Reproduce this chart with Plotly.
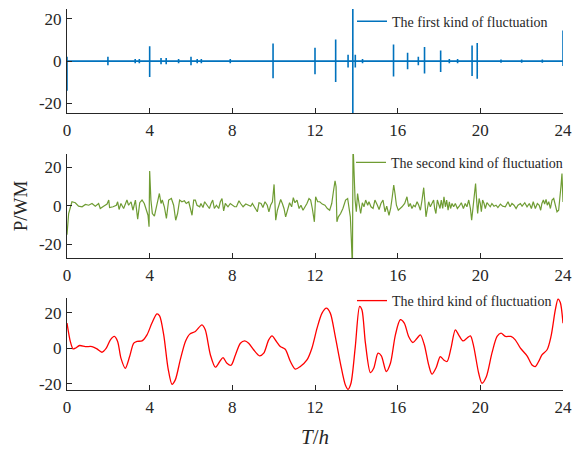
import plotly.graph_objects as go
from plotly.subplots import make_subplots

# ---------------- data ----------------
x_ticks = [0, 4, 8, 12, 16, 20, 24]
x_tick_labels = ["0", "4", "8", "12", "16", "20", "24"]
y_ticks = [-20, 0, 20]
y_tick_labels = ["-20", "0", "20"]

series_names = ["The first kind of fluctuation",
                "The second kind of fluctuation",
                "The third kind of fluctuation"]

# first kind: impulse-like spikes on a ~0 baseline
blue_spike_t = [0, 1.98, 3.3, 3.5, 4.0, 4.55, 4.8, 5.4, 6.0, 6.3, 6.5, 7.9, 9.97, 12.0,
                13.0, 13.6, 13.83, 13.95, 14.3, 15.8, 16.48, 17.0, 17.3, 18.08, 18.5,
                18.9, 19.6, 19.85, 21.0, 22.0, 23.0, 24.0]
blue_spike_up = [2, 2, 1, 1, 7, 1.5, 1.5, 1, 2, 1, 1, 1, 8.3, 6.3,
                 10.2, 3, 32, 3, 1, 7.8, 3.9, 2, 6.7, 5, 1,
                 1, 7.4, 8.6, 0.8, 0.8, 0.8, 14.4]
blue_spike_down = [-14, -2, -1, -1, -7.5, -1.5, -1.5, -1, -2, -1, -1, -1, -8.1, -6.2,
                   -9.9, -3, -32, -3, -1, -7.3, -3.9, -2, -5.8, -5.2, -1,
                   -1, -7, -8.3, -0.8, -0.8, -0.8, -2.3]

# second kind
green_t = [0, 0.08, 0.24, 0.4, 0.56, 0.73, 0.89, 1.05, 1.21, 1.37, 1.53, 1.61, 1.77, 1.94,
           2.02, 2.06, 2.23, 2.39, 2.45, 2.52, 2.61, 2.74, 2.9, 2.98, 3.1, 3.19, 3.31, 3.42,
           3.52, 3.63, 3.74, 3.84, 3.92, 3.97, 4.0, 4.06, 4.13, 4.23, 4.35, 4.47, 4.55, 4.61,
           4.71, 4.81, 4.92, 5.05, 5.16, 5.26, 5.35, 5.45, 5.56, 5.68, 5.77, 5.89, 5.97, 6.05,
           6.13, 6.21, 6.29, 6.42, 6.48, 6.58, 6.66, 6.77, 6.89, 6.97, 7.05, 7.13, 7.23, 7.34,
           7.42, 7.5, 7.58, 7.66, 7.79, 7.9, 8.0,
           8.11, 8.2, 8.32, 8.4, 8.52, 8.65, 8.77, 8.89, 8.97, 9.1, 9.21, 9.29, 9.39, 9.48,
           9.58, 9.69, 9.77, 9.85, 9.94, 10.02, 10.06, 10.1, 10.18, 10.26, 10.34, 10.42, 10.5,
           10.58, 10.68, 10.77, 10.87, 10.95, 11.03, 11.13, 11.23, 11.32, 11.42, 11.52, 11.61,
           11.71, 11.79, 11.87, 11.97, 12.03, 12.13, 12.23, 12.35, 12.48, 12.6, 12.71, 12.81,
           12.89, 12.97, 13.02, 13.06, 13.13, 13.24, 13.35, 13.48, 13.58, 13.65, 13.71, 13.76,
           13.81, 13.84, 13.89, 13.94, 14.0, 14.06, 14.13, 14.21, 14.29, 14.37, 14.45, 14.55,
           14.61, 14.71, 14.81, 14.9, 15.02, 15.1, 15.19, 15.29, 15.39, 15.47, 15.58, 15.66,
           15.74, 15.81, 15.87, 15.94, 16.03, 16.15,
           16.21, 16.34, 16.45, 16.53, 16.61, 16.69, 16.77, 16.85, 16.94, 17.02, 17.1, 17.18,
           17.26, 17.31, 17.37, 17.44, 17.5, 17.58, 17.66, 17.74, 17.79, 17.85, 17.92, 17.98,
           18.05, 18.11, 18.18, 18.24, 18.31, 18.37, 18.44, 18.5, 18.56, 18.63, 18.71, 18.79,
           18.89, 18.98, 19.08, 19.18, 19.27, 19.35, 19.44, 19.52, 19.58, 19.65, 19.71, 19.77,
           19.82, 19.87, 19.94, 20.0, 20.05, 20.11, 20.18, 20.24, 20.32, 20.4, 20.48, 20.56,
           20.66, 20.76, 20.85, 20.97, 21.08, 21.21, 21.34, 21.44, 21.53, 21.63, 21.73, 21.82,
           21.94, 22.02, 22.15, 22.26, 22.37, 22.47, 22.56, 22.66, 22.76, 22.85, 22.92, 22.98,
           23.05, 23.11, 23.18, 23.24, 23.31, 23.39, 23.47, 23.55, 23.63, 23.71, 23.79, 23.85,
           23.9, 23.95, 24.0]
green_v = [-15, -4, 2.1, 1.6, -0.2, -0.5, 0.7, 0.3, 1.2, -0.2, 1.2, -1.4, -0.2, 0.9,
           3.0, -0.9, -0.5, 0.3, 2.1, -1.9, 1.2, -1.4, 3.0, 0.3, 2.1, -2.3, 3.0, -6.9,
           1.6, 3.0, 1.2, -2.3, -4.9, -10.9, 18.1, 3.0, -4.0, -5.4, 1.2, 6.4, 1.2, 3.0,
           -0.5, -6.6, 3.0, 3.8, 0.3, -7.5, -4.0, 3.0, 2.1, 2.6, 1.2, 2.1, -1.4, -4.9,
           3.0, 3.0, 0.3, -0.5, 1.2, -0.9, 2.1, 0.3, -1.4, 1.2, 3.0, -1.4, 0.3, -1.4,
           2.1, 3.8, -2.6, 1.2, -0.5, 1.2, 0.5,
           -0.5, -0.5, 2.6, 1.2, -0.5, 0.9, 0.3, -0.2, 1.2, -0.9, -3.1, 1.6, 1.2, -0.9,
           2.1, 0.3, -3.1, 0.3, 2.1, 11.1, -0.5, -7.5, -2.3, 1.2, 3.3, 1.2, -1.4,
           -5.7, -1.4, 1.6, -0.5, 4.2, 1.6, 3.0, -1.4, 0.3, -2.3, -0.5, 1.2,
           3.8, 3.0, -1.4, -8.3, 4.7, 2.1, 2.1, 0.9, 0.3, -1.4, -2.3, 1.2,
           7.3, 13.0, 9.9, -8.3, -5.7, -4.0, -1.4, 3.0, 3.8, -1.4, -5.7, -17.9,
           -32, 32, 13.4, 3.0, -3.1, 6.4, 1.2, -4.0, 1.6, -0.5, 3.0, 0.3,
           2.1, -0.5, -1.4, 3.0, 0.3, -1.9, 1.2, 3.0, -3.1, -0.2, -4.9, -1.4,
           4.7, 10.8, 6.4, 0.3, -2.3, -1.4,
           -0.5, 1.2, 4.7, -0.5, 1.2, -1.4, 0.3, -0.5, 2.1, 0.3, -2.3, 3.0,
           9.4, 3.0, -5.7, -1.4, 2.1, -0.5, 1.2, 3.0, -1.4, -4.0, 3.0, 0.3,
           -1.4, 3.0, -1.4, 4.7, -0.5, 3.0, -2.3, 2.1, -1.4, 1.2, -0.5, 1.2,
           -1.4, -0.2, 1.6, -1.4, 1.2, -0.5, 3.0, -1.4, -7.5, -0.5, 6.4, 11.6,
           3.0, -4.0, 3.8, 1.2, -3.1, 3.0, 1.2, -1.4, 1.6, 0.3, -0.5, 1.2,
           -0.2, 0.3, -0.9, 0.9, -0.2, -0.5, 2.1, -0.5, 1.2, 0.3, -1.4, 0.3,
           1.2, -0.2, 1.6, -0.5, 1.2, -1.4, 2.1, -1.4, 1.2, 0.3, -2.3, 1.2,
           3.0, 0.9, 3.3, 0.3, 2.1, -1.4, 3.0, 3.8, -0.5, -3.1, -2.3, 3.0,
           9.9, 16.8, 2.0]

# third kind (smooth)
red_t = [0, 0.16, 0.29, 0.4, 0.61, 0.89, 1.21, 1.45, 1.69, 1.9, 2.1, 2.29, 2.45, 2.61,
         2.82, 3.03, 3.23, 3.39, 3.63, 3.87, 4.11, 4.35, 4.48, 4.68, 4.89, 5.08, 5.24,
         5.48, 5.73, 5.94, 6.21, 6.53, 6.69, 6.94, 7.18, 7.39, 7.55, 7.74, 7.94, 8.15,
         8.39, 8.6, 8.79, 9.03, 9.32, 9.52, 9.76, 9.92, 10.13, 10.32, 10.56, 10.81, 11.05,
         11.29, 11.61, 11.85, 12.1, 12.34, 12.55, 12.74, 12.98, 13.23, 13.47, 13.6, 13.74,
         13.95, 14.16, 14.27, 14.44, 14.68, 14.84, 15.05, 15.21, 15.45, 15.65, 15.89, 16.13,
         16.32, 16.53, 16.74, 16.94, 17.1, 17.29, 17.5, 17.66, 17.87, 18.06, 18.23, 18.39,
         18.58, 18.79, 18.95, 19.16, 19.35, 19.52, 19.68, 19.92, 20.08, 20.29, 20.56, 20.81,
         21.0, 21.21, 21.48, 21.69, 21.94, 22.26, 22.5, 22.66, 22.82, 22.98, 23.23, 23.42,
         23.63, 23.76, 23.87, 24.0]
red_v = [14.1, 3.8, -0.4, 0, 1.5, 0.9, 0.9, -0.4, -2.3, 0, 4.7, 6.6, 3.8, -5.6,
         -11.3, -4.7, 2.8, 3.8, 4.1, 7.5, 14.1, 19.3, 18.2, 7.5, -11.3, -20.3, -17.8,
         -6.6, 3.8, 7.9, 9.4, 13.1, 10.3, -3.8, -10.7, -7.5, -5.3, -8.5, -9.6, -3.8,
         2.8, 4.1, 2.8, -0.9, -4.3, -2.8, 4.7, 6.9, 3.8, 0.9, -0.6, -7.5, -11.8,
         -10.3, -6.6, 0, 11.3, 19.7, 22.5, 19.7, 6.6, -8.5, -20.7, -23.1, -19.7,
         0.9, 23.5, 21.6, 2.8, -13.7, -11.3, -2.8, -4.3, -13.1, -8.5, 7.5, 16,
         14.1, 6.6, 3.2, 5.6, 7.5, 1.9, -9.4, -14.6, -10.7, -4.7, -6.6, -7.5,
         0, 10.3, 7.5, 4.1, 5.6, 6.9, 0.9, -14.1, -19.7, -16, -2.8, 6.6,
         8.5, 6.6, 6.6, 4.7, 0, -4.3, -9.4, -10.3, -7.5, -3.8, -0.9, 6.6,
         21.6, 27.6, 25.7, 14]

# ---------------- figure ----------------
FONT = "Liberation Serif"
AX = "#262626"
W, H = 572, 453
ML, MR, MT, MB = 67, 9, 9, 63
ph = H - MT - MB


def py(px):  # pixel row -> paper y
    return (H - MB - px) / ph


def pxx(px):
    return (px - ML) / (W - ML - MR)


fig = make_subplots(rows=3, cols=1, shared_xaxes=False)

# build the spike trace for the first kind from its spike table
bx, by = [0.0], [0.0]
for t, u, d in zip(blue_spike_t, blue_spike_up, blue_spike_down):
    bx += [t, t, t, t]
    by += [0.0, u, d, 0.0]

fig.add_trace(go.Scatter(x=bx, y=by, mode="lines", name=series_names[0],
                         line=dict(color="#0072BD", width=1.6), legend="legend"),
              row=1, col=1)
fig.add_trace(go.Scatter(x=green_t, y=green_v, mode="lines", name=series_names[1],
                         line=dict(color="#6F9C33", width=1.2), legend="legend2"),
              row=2, col=1)
fig.add_trace(go.Scatter(x=red_t, y=red_v, mode="lines", name=series_names[2],
                         line=dict(color="#FF0000", width=1.3, shape="spline", smoothing=0.8),
                         legend="legend3"),
              row=3, col=1)

axis_common = dict(showline=True, linecolor=AX, linewidth=1, ticks="inside", ticklen=5,
                   tickcolor=AX, tickwidth=1, showgrid=False, zeroline=False, mirror=False,
                   automargin=False,
                   tickfont=dict(family=FONT, size=17, color=AX))

y_ranges = [[-24.5, 24.6], [-27.1, 26.9], [-23.5, 28.2]]
y_domains = [[py(113), py(9)], [py(258), py(154)], [py(390), py(298)]]

for i in range(3):
    xa = "xaxis" if i == 0 else f"xaxis{i+1}"
    ya = "yaxis" if i == 0 else f"yaxis{i+1}"
    fig.layout[xa].update(range=[0, 24], tickvals=x_ticks, ticktext=x_tick_labels,
                          ticklabelstandoff=2, domain=[0, 1], **axis_common)
    fig.layout[ya].update(range=y_ranges[i], tickvals=y_ticks, ticktext=y_tick_labels,
                          domain=y_domains[i], ticklabelstandoff=1, **axis_common)

fig.layout.yaxis2.title = dict(text="P/WM", font=dict(family=FONT, size=19, color=AX), standoff=6)
fig.layout.xaxis3.title = dict(text="<i>T</i>/<i>h</i>", font=dict(family=FONT, size=21, color=AX),
                               standoff=12)

leg_common = dict(bgcolor="rgba(0,0,0,0)", borderwidth=0, yanchor="middle",
                  font=dict(family=FONT, size=14, color=AX), xref="paper", yref="paper")

fig.update_layout(
    width=W, height=H, autosize=False,
    margin=dict(l=ML, r=MR, t=MT, b=MB, autoexpand=False),
    paper_bgcolor="white", plot_bgcolor="white",
    showlegend=True,
    legend=dict(x=pxx(352), xanchor="left", y=py(21.7), **leg_common),
    legend2=dict(x=pxx(568), xanchor="right", y=py(162.7), **leg_common),
    legend3=dict(x=pxx(352), xanchor="left", y=py(301), **leg_common),
)

fig.write_html("out.html",
               config={"displayModeBar": False, "responsive": False},
               post_script="document.body.style.margin='0';document.body.style.overflow='hidden';")
